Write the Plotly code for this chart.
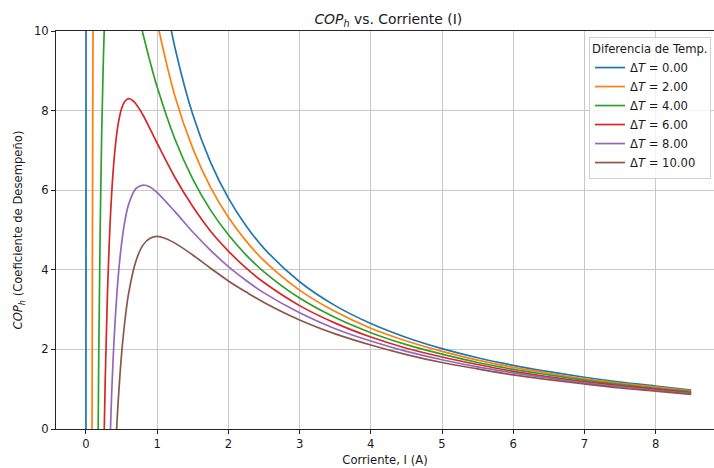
import plotly.graph_objects as go

# Temperature differences (legend)
delta_t = [0.0, 2.0, 4.0, 6.0, 8.0, 10.0]
colors = ["#1f77b4", "#ff7f0e", "#2ca02c", "#d62728", "#9467bd", "#8c564b"]

tail_x = [2.5, 3.0, 3.5, 4.0, 4.5, 5.0, 5.5, 6.0, 6.5, 7.0, 7.5, 8.0, 8.5]

# ΔT = 0
x_dt0 = [0.0, 0.001, None, 1.1, 1.25, 1.5, 1.75, 2.0, 2.25] + tail_x
y_dt0 = [0.0, 12.0, None, 10.95, 9.58, 7.90, 6.70, 5.80, 5.10,
         4.54, 3.70, 3.10, 2.65, 2.30, 2.02, 1.79, 1.60, 1.44, 1.30, 1.18, 1.08, 0.98]

# ΔT = 2
x_dt2 = [0.08, 0.09, 0.095, 0.1, 0.11, None, 0.95, 1.0, 1.25, 1.5, 1.75, 2.0, 2.25] + tail_x
y_dt2 = [-4.78, 4.18, 7.61, 10.5, 15.0, None, 10.68, 10.22, 8.36, 7.05, 6.07, 5.32, 4.72,
         4.23, 3.49, 2.95, 2.53, 2.21, 1.95, 1.73, 1.55, 1.40, 1.26, 1.15, 1.05, 0.96]

# ΔT = 4
x_dt4 = [0.16, 0.18, 0.2, 0.22, 0.24, 0.26, 0.3, None,
         0.7, 0.75, 0.8, 0.9, 1.0, 1.25, 1.5, 1.75, 2.0, 2.25] + tail_x
y_dt4 = [-2.52, 1.96, 5.11, 7.37, 8.99, 10.17, 11.6, None,
         10.70, 10.31, 9.93, 9.23, 8.59, 7.28, 6.28, 5.50, 4.88, 4.37,
         3.95, 3.29, 2.80, 2.42, 2.12, 1.88, 1.67, 1.50, 1.36, 1.23, 1.12, 1.02, 0.94]

# ΔT = 6
x_dt6 = [0.25, 0.27, 0.3, 0.35, 0.4, 0.45, 0.5, 0.55, 0.6, 0.65, 0.7, 0.8, 0.9, 1.0,
         1.25, 1.5, 1.75, 2.0, 2.25] + tail_x
y_dt6 = [-0.65, 1.22, 3.31, 5.57, 6.88, 7.64, 8.05, 8.24, 8.30, 8.26, 8.17, 7.89, 7.54, 7.18,
         6.32, 5.59, 4.97, 4.47, 4.04,
         3.68, 3.10, 2.66, 2.31, 2.03, 1.81, 1.62, 1.45, 1.31, 1.19, 1.09, 1.00, 0.91]

# ΔT = 8
x_dt8 = [0.33, 0.36, 0.4, 0.45, 0.5, 0.55, 0.6, 0.7, 0.8, 0.9, 1.0,
         1.25, 1.5, 1.75, 2.0, 2.25] + tail_x
y_dt8 = [-0.75, 0.85, 2.42, 3.77, 4.66, 5.26, 5.65, 6.04, 6.13, 6.08, 5.94,
         5.46, 4.95, 4.49, 4.08, 3.73,
         3.42, 2.92, 2.52, 2.21, 1.95, 1.74, 1.56, 1.41, 1.28, 1.16, 1.06, 0.97, 0.89]

# ΔT = 10
x_dt10 = [0.42, 0.45, 0.5, 0.55, 0.6, 0.7, 0.8, 0.9, 1.0, 1.1,
          1.25, 1.5, 1.75, 2.0, 2.25] + tail_x
y_dt10 = [-0.37, 0.62, 1.88, 2.77, 3.42, 4.21, 4.62, 4.79, 4.84, 4.80,
          4.67, 4.37, 4.04, 3.72, 3.44,
          3.18, 2.74, 2.39, 2.11, 1.87, 1.67, 1.51, 1.36, 1.24, 1.13, 1.03, 0.95, 0.87]

series_x = [x_dt0, x_dt2, x_dt4, x_dt6, x_dt8, x_dt10]
series_y = [y_dt0, y_dt2, y_dt4, y_dt6, y_dt8, y_dt10]

x_ticks = [0, 1, 2, 3, 4, 5, 6, 7, 8]
y_ticks = [0, 2, 4, 6, 8, 10]

FONT = "DejaVu Sans"
TXT = "#1a1a1a"

fig = go.Figure()
for dt, col, xs, ys in zip(delta_t, colors, series_x, series_y):
    fig.add_trace(go.Scatter(
        x=xs, y=ys, mode="lines",
        name=f"Δ<i>T</i> = {dt:.2f}",
        line=dict(color=col, width=1.7, shape="spline"),
        connectgaps=False,
    ))

fig.update_layout(
    width=714, height=468,
    margin=dict(l=56, r=0, t=31, b=39),
    paper_bgcolor="white", plot_bgcolor="white",
    font=dict(family=FONT, size=11.6, color=TXT),
    title=dict(
        text="<i>COP<sub>h</sub></i> vs. Corriente (I)",
        x=0.505, xref="paper", xanchor="center",
        y=1 - 19 / 468, yref="container", yanchor="middle",
        font=dict(family=FONT, size=13.9, color=TXT),
    ),
    showlegend=True,
    legend=dict(
        x=0.81, xanchor="left", y=0.985, yanchor="top",
        bgcolor="rgba(255,255,255,0.8)", bordercolor="#d0d0d0", borderwidth=1,
        title=dict(text="Diferencia de Temp.", font=dict(family=FONT, size=11.6, color=TXT)),
        font=dict(family=FONT, size=11.6, color=TXT),
        tracegroupgap=0,
    ),
)

fig.update_xaxes(
    range=[-0.421, 8.82],
    tickvals=x_ticks, ticktext=[str(v) for v in x_ticks],
    showgrid=True, gridcolor="#c8c8c8", gridwidth=1,
    zeroline=False, showline=True, mirror=True,
    linecolor="#262626", linewidth=1,
    ticks="outside", ticklen=4, tickcolor="#262626", tickwidth=1,
    title=dict(text="Corriente, I (A)", standoff=5, font=dict(family=FONT, size=11.6, color=TXT)),
    tickfont=dict(family=FONT, size=11.6, color=TXT),
)
fig.update_yaxes(
    range=[0, 10],
    tickvals=y_ticks, ticktext=[str(v) for v in y_ticks],
    showgrid=True, gridcolor="#c8c8c8", gridwidth=1,
    zeroline=False, showline=True, mirror=False,
    linecolor="#262626", linewidth=1,
    ticks="outside", ticklen=4, tickcolor="#262626", tickwidth=1,
    title=dict(text="<i>COP<sub>h</sub></i> (Coeficiente de Desempeño)", standoff=8,
               font=dict(family=FONT, size=11.6, color=TXT)),
    tickfont=dict(family=FONT, size=11.6, color=TXT),
)

fig.write_html("out.html")
